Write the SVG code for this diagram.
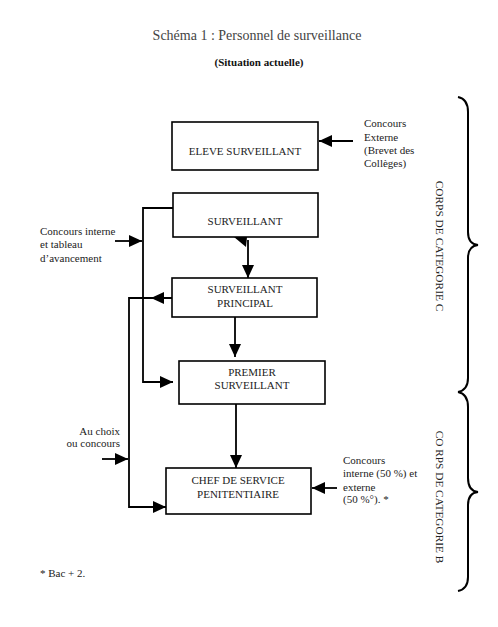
<svg xmlns="http://www.w3.org/2000/svg" width="498" height="627" viewBox="0 0 498 627">
<defs>
<style>
text{font-family:"Liberation Serif","Times New Roman",serif;fill:#222;font-size:11px}
.title{font-size:14px;fill:#444}
.sub{font-weight:bold;font-size:11px;fill:#111}
.box{fill:#fff;stroke:#000;stroke-width:1.6}
.c{text-anchor:middle}
.e{text-anchor:end}
.ln{fill:none;stroke:#000;stroke-width:1.8}
.br{fill:none;stroke:#000;stroke-width:2}
.head{fill:#000}
</style>
<marker id="ah" markerUnits="userSpaceOnUse" markerWidth="14" markerHeight="12" refX="13" refY="6" orient="auto">
<path d="M0,0 L13,6 L0,12 Z" fill="#000"/>
</marker>
</defs>
<rect width="498" height="627" fill="#fff"/>
<text class="title c" x="257" y="40">Schéma 1 : Personnel de surveillance</text>
<text class="sub c" x="259" y="66">(Situation actuelle)</text>

<g id="connectors">
<line class="ln" x1="353" y1="141" x2="319" y2="141" marker-end="url(#ah)"/>
<line class="ln" x1="115" y1="241" x2="142" y2="241" marker-end="url(#ah)"/>
<path class="ln" d="M173,208 H143 V382 H173" marker-end="url(#ah)"/>
<line class="ln" x1="248" y1="240" x2="248" y2="278" marker-end="url(#ah)"/>
<polygon class="head" points="234,237 247,237 246,247"/>
<line class="ln" x1="235" y1="317" x2="235" y2="357" marker-end="url(#ah)"/>
<line class="ln" x1="236" y1="404" x2="236" y2="468" marker-end="url(#ah)"/>
<path class="ln" d="M180,298 H129 V507 H166" marker-end="url(#ah)"/>
<polygon class="head" points="151,298 164,292 164,304"/>
<line class="ln" x1="102" y1="459" x2="128" y2="459" marker-end="url(#ah)"/>
<line class="ln" x1="337" y1="488" x2="312" y2="488" marker-end="url(#ah)"/>
</g>

<g id="eleve">
<rect class="box" x="172" y="122" width="146" height="48"/>
<text class="c" x="245" y="155">ELEVE SURVEILLANT</text>
</g>
<g id="surveillant">
<rect class="box" x="173" y="193" width="145" height="44"/>
<text class="c" x="245" y="225">SURVEILLANT</text>
</g>
<g id="principal">
<rect class="box" x="172" y="278" width="145" height="39"/>
<text class="c" x="245" y="293">SURVEILLANT</text>
<text class="c" x="245" y="307">PRINCIPAL</text>
</g>
<g id="premier">
<rect class="box" x="179" y="361" width="146" height="43"/>
<text class="c" x="252" y="376">PREMIER</text>
<text class="c" x="252" y="389">SURVEILLANT</text>
</g>
<g id="chef">
<rect class="box" x="166" y="468" width="145" height="46"/>
<text class="c" x="238" y="484">CHEF DE SERVICE</text>
<text class="c" x="238" y="498">PENITENTIAIRE</text>
</g>

<g id="label-externe">
<text x="364" y="127">Concours</text>
<text x="364" y="141">Externe</text>
<text x="364" y="154">(Brevet des</text>
<text x="364" y="167">Collèges)</text>
</g>
<g id="label-interne">
<text x="40" y="235">Concours interne</text>
<text x="40" y="248">et tableau</text>
<text x="40" y="262">d’avancement</text>
</g>
<g id="label-choix">
<text class="e" x="120" y="435">Au choix</text>
<text class="e" x="120" y="447">ou concours</text>
</g>
<g id="label-chef">
<text x="343" y="464">Concours</text>
<text x="343" y="477">interne (50 %) et</text>
<text x="343" y="491">externe</text>
<text x="343" y="503">(50 %°). *</text>
</g>

<g id="brace-c">
<path class="br" d="M458,97 Q468,99 468,112 V232 Q468,244 478,245 Q468,246 468,258 V378 Q468,390 458,392"/>
<text class="c" transform="translate(436,246) rotate(90)" style="font-size:11.4px">CORPS DE CATEGORIE C</text>
</g>
<g id="brace-b">
<path class="br" d="M458,392 Q468,394 468,407 V478 Q468,491 478,492 Q468,493 468,505 V577 Q468,589 458,591"/>
<text class="c" transform="translate(436,497) rotate(90)" style="font-size:11.3px">CO RPS DE CATEGORIE B</text>
</g>

<text x="40" y="577">* Bac + 2.</text>
</svg>
